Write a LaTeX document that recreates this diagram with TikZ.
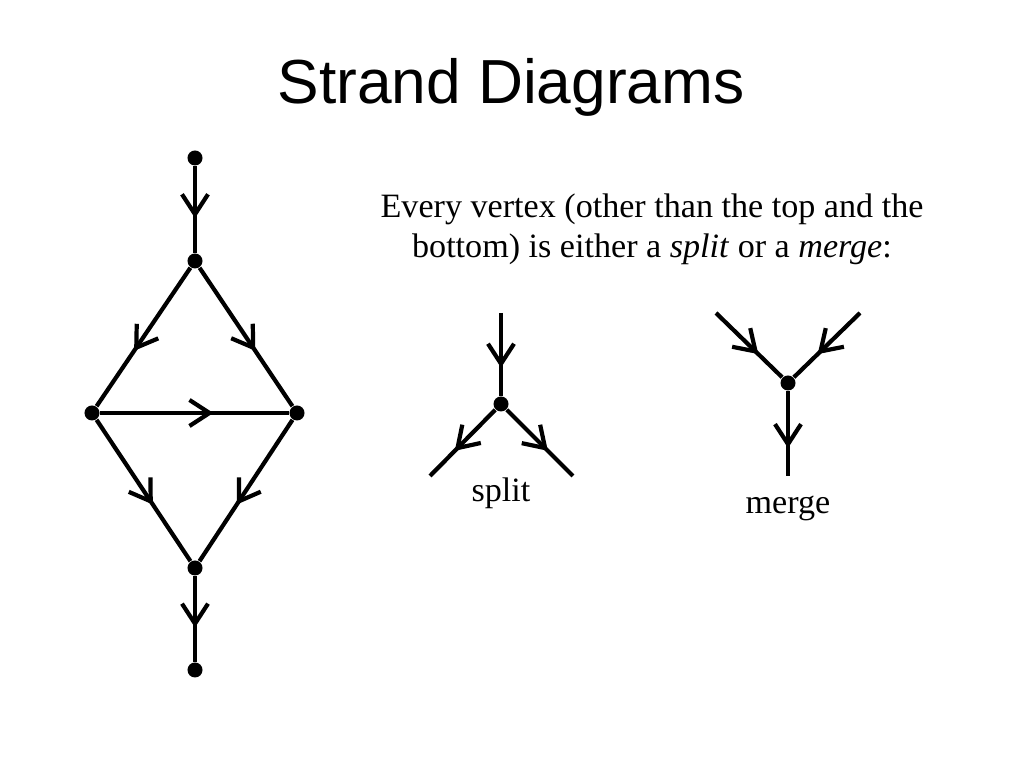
\documentclass[tikz,border=0pt]{standalone}
\usepackage{fontspec}
\setmainfont{Liberation Serif}
\newfontfamily\titlefont{Liberation Sans}
\usetikzlibrary{arrows.meta,decorations.markings}
\tikzset{
  vertex/.style={circle,fill,inner sep=0pt,minimum size=0.15cm},
  strand/.style={line width=0.042cm,postaction={decorate},
    decoration={markings,mark=at position #1 with {\arrow{Straight Barb[length=0.2cm,width=0.26cm]}}}},
  strand/.default=0.6,
  words/.style={font=\fontsize{9.7}{11.4}\selectfont}
}

\begin{document}
\begin{tikzpicture}[x=0.01cm,y=-0.01cm]
    \useasboundingbox (0,0) rectangle (1024,768);
    % title
    \node[anchor=base,font=\titlefont\fontsize{17.7}{20}\selectfont] (title) at (511,104) {Strand Diagrams};
    % the diamond
    \node[vertex] (top) at (195,158) {};
    \node[vertex] (a) at (195,261) {};
    \node[vertex] (l) at (92,413) {};
    \node[vertex] (r) at (297,413) {};
    \node[vertex] (b) at (195,568) {};
    \node[vertex] (bot) at (195,670) {};
    \draw[strand] (top) -- (a);
    \draw[strand] (a) -- (l);
    \draw[strand] (a) -- (r);
    \draw[strand] (l) -- (r);
    \draw[strand] (l) -- (b);
    \draw[strand] (r) -- (b);
    \draw[strand] (b) -- (bot);
    % explanation
    \node[words,anchor=base,align=center] (text) at (652,258)
      {Every vertex (other than the top and the\\bottom) is either a \textit{split} or a \textit{merge}:};
    % split
    \coordinate (sin) at (501,313);
    \node[vertex] (s) at (501,404) {};
    \coordinate (sl) at (430,476);
    \coordinate (sr) at (573,476);
    \draw[strand=0.66] (sin) -- (s);
    \draw[strand=0.62] (s) -- (sl);
    \draw[strand=0.62] (s) -- (sr);
    \node[words,anchor=base] (splitlabel) at (501,502) {split};
    % merge
    \coordinate (ml) at (716,313);
    \coordinate (mr) at (860,313);
    \node[vertex] (m) at (788,383) {};
    \coordinate (mout) at (788,476);
    \draw[strand=0.64] (ml) -- (m);
    \draw[strand=0.64] (mr) -- (m);
    \draw[strand=0.67] (m) -- (mout);
    \node[words,anchor=base] (mergelabel) at (788,514) {merge};
\end{tikzpicture}
\end{document}
